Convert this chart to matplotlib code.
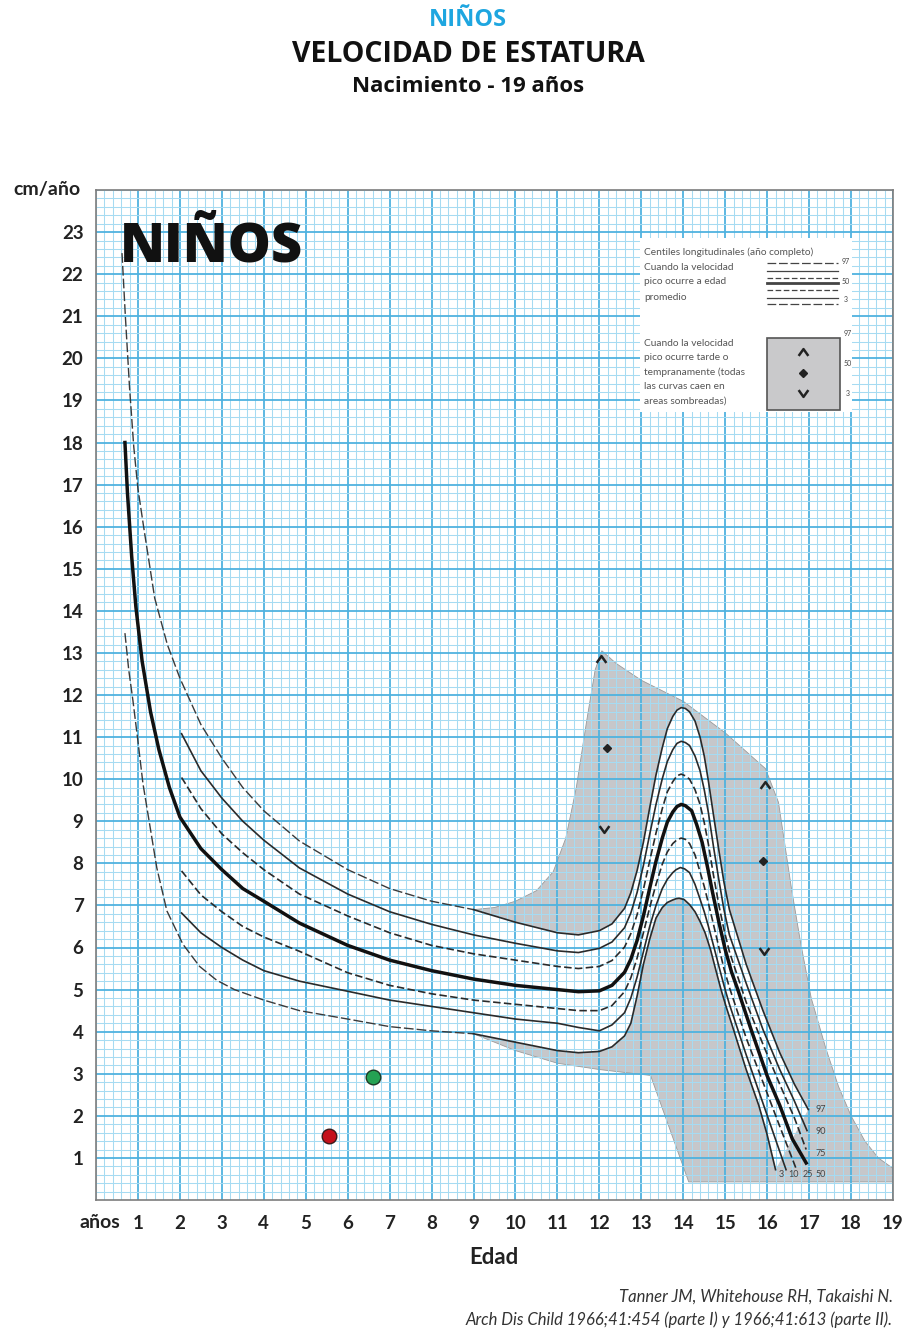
import matplotlib
matplotlib.use("Agg")
import matplotlib.pyplot as plt
from matplotlib.path import Path
from matplotlib.patches import Polygon, Rectangle
from matplotlib.ticker import MultipleLocator

plt.rcParams["font.family"] = ["Lato", "DejaVu Sans"]

# ---- centile curves: velocity (cm/año) against age (años) ----
# 97th and 3rd centiles before puberty (drawn dashed)
age_p97_early = [0.62, 0.7, 0.8, 0.9, 1.0, 1.15, 1.4, 1.7, 2.0, 2.5, 3.0, 3.5, 4.0, 4.85, 6.0, 7.0, 8.0, 9.0]
vel_p97_early = [22.5, 21.0, 19.3, 17.9, 16.9, 15.9, 14.3, 13.2, 12.4, 11.3, 10.5, 9.8, 9.25, 8.53, 7.85, 7.4, 7.1, 6.9]
age_p3_early = [0.69, 0.78, 0.88, 1.0, 1.12, 1.3, 1.45, 1.69, 2.07, 2.47, 2.88, 3.3, 4.0, 4.85, 6.0, 7.0, 8.0, 9.0]
vel_p3_early = [13.47, 12.6, 11.87, 10.9, 9.89, 8.8, 7.89, 6.87, 6.08, 5.55, 5.22, 5.0, 4.75, 4.5, 4.3, 4.12, 4.02, 3.95]

# 97th and 3rd centiles through the pubertal spurt
age_p97 = [9.0, 10.0, 11.0, 11.5, 12.0, 12.3, 12.6, 12.75, 12.9, 13.05, 13.2, 13.35, 13.5, 13.62, 13.75, 13.85,
           13.95, 14.05, 14.15, 14.28, 14.4, 14.5, 14.6, 14.72, 14.85, 14.97, 15.1, 15.5, 15.9, 16.3, 16.65, 16.98]
vel_p97 = [6.9, 6.6, 6.35, 6.3, 6.4, 6.56, 6.93, 7.3, 7.83, 8.5, 9.32, 10.1, 10.75, 11.2, 11.49, 11.64,
           11.7, 11.68, 11.6, 11.38, 11.0, 10.55, 9.95, 9.15, 8.3, 7.55, 6.9, 5.6, 4.5, 3.5, 2.75, 2.15]
age_p3 = [9.0, 10.0, 11.0, 11.5, 12.0, 12.3, 12.6, 12.75, 12.9, 13.05, 13.2, 13.35, 13.5, 13.62, 13.75, 13.83,
          13.9, 14.02, 14.15, 14.28, 14.4, 14.52, 14.65, 14.78, 14.9, 15.02, 15.15, 15.5, 15.8, 16.0, 16.2]
vel_p3 = [3.95, 3.75, 3.55, 3.5, 3.53, 3.64, 3.9, 4.2, 4.85, 5.6, 6.2, 6.7, 6.95, 7.07, 7.13, 7.16,
          7.17, 7.14, 7.02, 6.85, 6.62, 6.35, 5.95, 5.45, 5.0, 4.6, 4.2, 3.1, 2.25, 1.55, 0.72]

# 90th and 75th centiles
age_p90 = [2.04, 2.5, 3.0, 3.5, 4.0, 4.85, 6.0, 7.0, 8.0, 9.0, 10.0, 11.0, 11.5, 12.0, 12.3, 12.6, 12.75, 12.9,
           13.05, 13.2, 13.35, 13.5, 13.62, 13.75, 13.85, 13.95, 14.05, 14.15, 14.28, 14.4, 14.5, 14.6, 14.72,
           14.85, 14.97, 15.1, 15.5, 15.9, 16.3, 16.65, 16.95]
vel_p90 = [11.08, 10.2, 9.55, 9.0, 8.55, 7.89, 7.27, 6.85, 6.55, 6.3, 6.1, 5.92, 5.88, 5.98, 6.13, 6.47, 6.82, 7.31,
           7.95, 8.69, 9.4, 10.01, 10.42, 10.7, 10.85, 10.9, 10.87, 10.8, 10.55, 10.2, 9.75, 9.2, 8.4,
           7.6, 6.9, 6.3, 5.15, 4.05, 3.1, 2.35, 1.65]
age_p75 = [2.04, 2.5, 3.0, 3.5, 4.0, 4.85, 6.0, 7.0, 8.0, 9.0, 10.0, 11.0, 11.5, 12.0, 12.3, 12.6, 12.75, 12.9,
           13.05, 13.2, 13.35, 13.5, 13.62, 13.75, 13.85, 13.95, 14.05, 14.15, 14.28, 14.4, 14.5, 14.6, 14.72,
           14.85, 14.97, 15.1, 15.5, 15.9, 16.3, 16.65, 16.93]
vel_p75 = [10.04, 9.3, 8.7, 8.25, 7.85, 7.27, 6.75, 6.35, 6.05, 5.85, 5.7, 5.55, 5.5, 5.55, 5.69, 6.01, 6.33, 6.78,
           7.38, 8.06, 8.72, 9.30, 9.7, 9.94, 10.08, 10.12, 10.08, 10.0, 9.75, 9.4, 8.97, 8.45, 7.72,
           7.0, 6.43, 5.9, 4.7, 3.7, 2.75, 1.95, 1.2]

# 50th centile, birth to the end of growth
age_p50 = [0.69, 0.75, 0.85, 0.95, 1.1, 1.3, 1.5, 1.75, 2.0, 2.5, 3.0, 3.5, 4.0, 4.85, 6.0, 7.0, 8.0, 9.0, 10.0, 11.0,
           11.5, 12.0, 12.3, 12.6, 12.75, 12.9, 13.05, 13.2, 13.35, 13.5, 13.62, 13.75, 13.85, 13.95, 14.05, 14.2,
           14.32, 14.45, 14.58, 14.7, 14.85, 15.0, 15.15, 15.3, 15.6, 16.0, 16.3, 16.6, 16.93]
vel_p50 = [18.0, 16.8, 15.3, 14.1, 12.8, 11.6, 10.7, 9.8, 9.1, 8.35, 7.85, 7.4, 7.1, 6.58, 6.05, 5.7, 5.45, 5.25, 5.1, 5.0,
           4.95, 4.97, 5.10, 5.41, 5.72, 6.17, 6.75, 7.41, 8.05, 8.60, 8.98, 9.22, 9.35, 9.4, 9.37, 9.25,
           8.92, 8.5, 7.9, 7.3, 6.6, 5.95, 5.42, 5.0, 4.1, 2.95, 2.25, 1.45, 0.88]

# 25th and 10th centiles
age_p25 = [2.04, 2.5, 3.0, 3.5, 4.0, 4.85, 6.0, 7.0, 8.0, 9.0, 10.0, 11.0, 11.5, 12.0, 12.3, 12.6, 12.75, 12.9,
           13.05, 13.2, 13.35, 13.5, 13.62, 13.75, 13.85, 13.95, 14.05, 14.15, 14.28, 14.4, 14.5, 14.6, 14.72,
           14.85, 14.97, 15.1, 15.5, 15.9, 16.3, 16.7]
vel_p25 = [7.82, 7.25, 6.85, 6.5, 6.25, 5.91, 5.4, 5.1, 4.9, 4.75, 4.65, 4.55, 4.5, 4.5, 4.62, 4.95, 5.28, 5.75,
           6.35, 6.95, 7.5, 7.98, 8.27, 8.47, 8.56, 8.6, 8.57, 8.47, 8.2, 7.8, 7.45, 7.05, 6.55,
           6.0, 5.5, 5.05, 3.85, 2.8, 1.75, 0.72]
age_p10 = [2.04, 2.5, 3.0, 3.5, 4.0, 4.85, 6.0, 7.0, 8.0, 9.0, 10.0, 11.0, 11.5, 12.0, 12.3, 12.6, 12.75, 12.9,
           13.05, 13.2, 13.35, 13.5, 13.62, 13.75, 13.83, 13.93, 14.03, 14.15, 14.28, 14.4, 14.5, 14.6, 14.72,
           14.85, 14.97, 15.1, 15.5, 15.9, 16.45]
vel_p10 = [6.82, 6.35, 6.0, 5.7, 5.45, 5.2, 4.96, 4.75, 4.6, 4.45, 4.3, 4.2, 4.1, 4.02, 4.16, 4.45, 4.8, 5.3,
           5.9, 6.5, 7.0, 7.4, 7.62, 7.78, 7.85, 7.9, 7.87, 7.78, 7.5, 7.15, 6.85, 6.5, 6.05,
           5.55, 5.1, 4.65, 3.45, 2.3, 0.72]

# envelope for early / late maturers (shaded area)
env_age = [9.0, 9.5, 10.0, 10.5, 10.9, 11.2, 11.45, 11.7, 11.9, 12.06, 12.4, 13.0, 14.0, 15.0, 15.96, 16.27, 16.58, 16.8,
           17.05, 17.4, 17.7, 18.0, 18.33, 18.65, 19.0, 19.0, 14.13, 13.22, 12.0, 11.0, 10.0, 9.0]
env_vel = [6.9, 6.95, 7.1, 7.35, 7.8, 8.6, 9.8, 11.4, 12.6, 13.05, 12.75, 12.35, 11.85, 11.1, 10.25, 9.45, 7.4, 6.1,
           4.8, 3.6, 2.7, 2.0, 1.4, 1.0, 0.75, 0.43, 0.43, 2.96, 3.1, 3.25, 3.55, 3.95]

# markers for peak timing (early / average / late)
up_age, up_vel = [12.05, 15.96], [12.85, 9.85]
mid_age, mid_vel = [12.18, 15.91], [10.73, 8.06]
down_age, down_vel = [12.12, 15.93], [8.82, 5.91]

# individual measurements
red_age, red_vel = 5.56, 1.53
green_age, green_vel = 6.61, 2.93

x_ticks = list(range(1, 20))
y_ticks = list(range(1, 24))
end_labels = ["97", "90", "75", "50", "25", "10", "3"]
end_label_age = [17.27, 17.27, 17.27, 17.27, 16.98, 16.62, 16.34]
end_label_vel = [2.15, 1.62, 1.1, 0.6, 0.6, 0.6, 0.6]

W, H = 908, 1330
fig = plt.figure(figsize=(W / 100, H / 100), dpi=100)
fig.patch.set_facecolor("white")


def fx(px):
    return px / W


def fy(py):
    return 1 - py / H


ax = fig.add_axes([fx(96), fy(1200), 797 / W, 1010 / H])
ax.set_xlim(0, 19)
ax.set_ylim(0, 24)

# graph paper grid
ax.set_axisbelow(True)
ax.xaxis.set_major_locator(MultipleLocator(1))
ax.yaxis.set_major_locator(MultipleLocator(1))
ax.xaxis.set_minor_locator(MultipleLocator(0.2))
ax.yaxis.set_minor_locator(MultipleLocator(0.2))
ax.grid(which="minor", color="#a6dbf2", lw=0.75)
ax.grid(which="major", color="#4fb2df", lw=1.3)
ax.set_xticks(x_ticks)
ax.set_yticks(y_ticks)
ax.tick_params(which="both", length=0)
ax.tick_params(axis="x", pad=11, labelsize=13.5, labelcolor="#222")
ax.tick_params(axis="y", pad=9, labelsize=13.5, labelcolor="#222")
for lab in ax.get_xticklabels() + ax.get_yticklabels():
    lab.set_fontweight("bold")
for sp in ax.spines.values():
    sp.set_color("#7d7d7d")
    sp.set_linewidth(1.2)

# shaded envelope and the white band of the average-timing centiles
ax.add_patch(Polygon(list(zip(env_age, env_vel)), closed=True, facecolor="#c6c7ca",
                     edgecolor="none", zorder=0.2))
ax.plot(env_age, env_vel, color="#9a9a9a", lw=0.6, zorder=0.25)
band = list(zip(age_p97, vel_p97)) + list(zip(age_p3[::-1], vel_p3[::-1]))
ax.add_patch(Polygon(band, closed=True, facecolor="white", edgecolor="none", zorder=0.3))

ink = "#2a2a2a"
long_dash = (0, (7, 2.2))
short_dash = (0, (4.5, 2.0))
ax.plot(age_p97_early, vel_p97_early, color="#3a3a3a", lw=1.0, ls=long_dash, zorder=3)
ax.plot(age_p3_early, vel_p3_early, color="#3a3a3a", lw=1.0, ls=long_dash, zorder=3)
for ages, vels in [(age_p97, vel_p97), (age_p3, vel_p3), (age_p90, vel_p90), (age_p10, vel_p10)]:
    ax.plot(ages, vels, color=ink, lw=1.2, zorder=3, solid_joinstyle="round")
for ages, vels in [(age_p75, vel_p75), (age_p25, vel_p25)]:
    ax.plot(ages, vels, color=ink, lw=1.2, ls=short_dash, zorder=3)
ax.plot(age_p50, vel_p50, color="#111", lw=2.5, zorder=4, solid_joinstyle="round")

for txt, xa, ya in zip(end_labels, end_label_age, end_label_vel):
    ax.text(xa, ya, txt, fontsize=6.5, color="#444", ha="center", va="center", zorder=5)

# peak timing symbols
chev_up = Path([(-1, -0.7), (0, 0.7), (1, -0.7)], [Path.MOVETO, Path.LINETO, Path.LINETO])
chev_down = Path([(-1, 0.7), (0, -0.7), (1, 0.7)], [Path.MOVETO, Path.LINETO, Path.LINETO])
ax.plot(up_age, up_vel, ls="none", marker=chev_up, ms=7, mfc="none", mec="#222", mew=1.8, zorder=5)
ax.plot(down_age, down_vel, ls="none", marker=chev_down, ms=7, mfc="none", mec="#222", mew=1.8, zorder=5)
ax.plot(mid_age, mid_vel, ls="none", marker="D", ms=4.5, color="#222", zorder=5)

ax.plot(red_age, red_vel, "o", ms=10.5, mfc="#c4111b", mec="#3a1a1a", mew=1.0, zorder=6)
ax.plot(green_age, green_vel, "o", ms=10.5, mfc="#25a253", mec="#1d3a26", mew=1.0, zorder=6)

ax.text(0.030, 0.929, "NIÑOS", transform=ax.transAxes, fontsize=39, fontweight="heavy",
        family=["Open Sans", "DejaVu Sans"], color="#111", va="baseline", ha="left", zorder=6)

# legend box
lg = fig.add_axes([fx(640), fy(412), 212 / W, 174 / H])
lg.set_xlim(0, 212)
lg.set_ylim(174, 0)
lg.set_facecolor("white")
lg.set_xticks([])
lg.set_yticks([])
for sp in lg.spines.values():
    sp.set_visible(False)
small = dict(fontsize=7.3, color="#555", ha="left", va="center")
lg.text(4, 14, "Centiles longitudinales (año completo)", **small)
for i, s in enumerate(["Cuando la velocidad", "pico ocurre a edad", "promedio"]):
    lg.text(4, 29 + 15 * i, s, **small)
for i, s in enumerate(["Cuando la velocidad", "pico ocurre tarde o", "tempranamente (todas",
                       "las curvas caen en", "areas sombreadas)"]):
    lg.text(4, 105 + 14.5 * i, s, **small)
sample_y = [25, 33, 40, 45, 52, 60, 66]
sample_style = [long_dash, "-", short_dash, "-", short_dash, "-", long_dash]
sample_lw = [0.9, 0.9, 0.9, 2.0, 0.9, 0.9, 0.9]
for yy, st, lw in zip(sample_y, sample_style, sample_lw):
    lg.plot([127, 198], [yy, yy], color="#444", ls=st, lw=lw)
lg.text(202, 23, "97", fontsize=5, color="#444", va="center")
lg.text(202, 44, "50", fontsize=5, color="#444", va="center")
lg.text(204, 62, "3", fontsize=5, color="#444", va="center")
lg.add_patch(Rectangle((127, 100), 73, 72, facecolor="#c9c9cb", edgecolor="#555", lw=1.2))
lg.plot([163], [114], marker=chev_up, ms=7, mfc="none", mec="#222", mew=1.8)
lg.plot([163], [135], marker="D", ms=4.5, color="#222")
lg.plot([163], [155], marker=chev_down, ms=7, mfc="none", mec="#222", mew=1.8)
lg.text(204, 95, "97", fontsize=5, color="#444", va="center")
lg.text(204, 125, "50", fontsize=5, color="#444", va="center")
lg.text(206, 155, "3", fontsize=5, color="#444", va="center")

# titles and axis captions
head = ["Open Sans", "DejaVu Sans"]
fig.text(fx(468), fy(20), "NIÑOS", ha="center", va="center", fontsize=17, fontweight="bold",
         color="#1ea6e0", family=head)
fig.text(fx(468), fy(54), "VELOCIDAD DE ESTATURA", ha="center", va="center", fontsize=20.5,
         fontweight="bold", color="#111", family=head)
fig.text(fx(468), fy(86), "Nacimiento - 19 años", ha="center", va="center", fontsize=16,
         fontweight="bold", color="#111", family=head)
fig.text(fx(47), fy(190), "cm/año", ha="center", va="center", fontsize=14, fontweight="bold", color="#222")
fig.text(fx(100), fy(1222), "años", ha="center", va="center", fontsize=14, fontweight="bold", color="#222")
fig.text(fx(494), fy(1258), "Edad", ha="center", va="center", fontsize=16, fontweight="bold", color="#222")
fig.text(fx(893), fy(1297), "Tanner JM, Whitehouse RH, Takaishi N.", ha="right", va="center",
         fontsize=12, style="italic", color="#333")
fig.text(fx(893), fy(1320), "Arch Dis Child 1966;41:454 (parte I) y 1966;41:613 (parte II).", ha="right",
         va="center", fontsize=12, style="italic", color="#333")

fig.savefig("out.png", dpi=100)
